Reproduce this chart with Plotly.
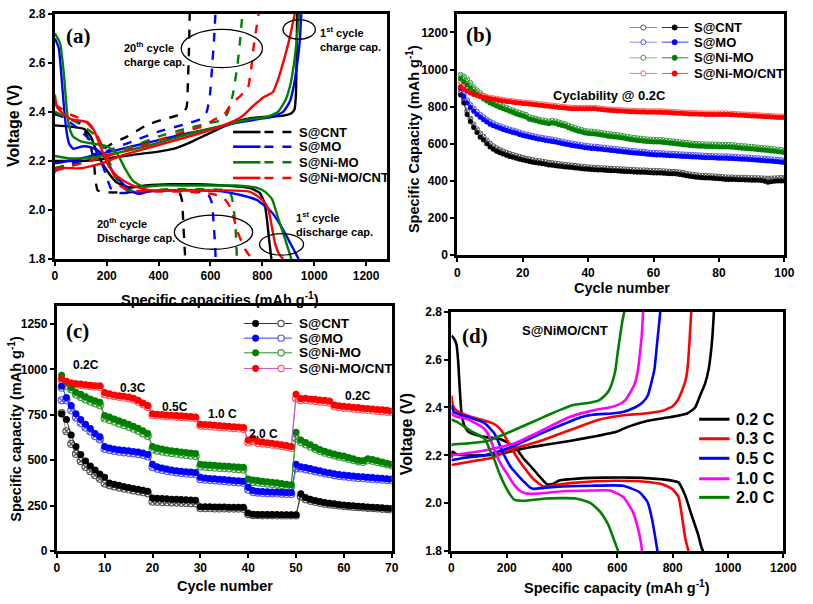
import plotly.graph_objects as go

# ---------------- DATA ----------------
materials = ["S@CNT", "S@MO", "S@Ni-MO", "S@Ni-MO/CNT"]

# Panel (a): 1st cycle (solid) and 20th cycle (dashed) voltage profiles
a_cnt_d1_x = [0, 60, 113, 138, 160, 189, 215, 239, 289, 350, 450, 550, 650, 750, 790, 808, 818, 826, 835]
a_cnt_d1_y = [2.345, 2.34, 2.33, 2.30, 2.24, 2.18, 2.14, 2.112, 2.092, 2.10, 2.105, 2.105, 2.10, 2.09, 2.07, 2.03, 1.96, 1.88, 1.80]
a_mo_d1_x = [0, 15, 25, 35, 45, 55, 70, 90, 110, 140, 170, 200, 227, 260, 290, 327, 360, 450, 550, 650, 720, 780, 837, 880, 910, 940]
a_mo_d1_y = [2.70, 2.66, 2.55, 2.42, 2.32, 2.27, 2.25, 2.255, 2.26, 2.255, 2.24, 2.20, 2.15, 2.11, 2.08, 2.065, 2.075, 2.08, 2.08, 2.075, 2.06, 2.04, 1.99, 1.92, 1.86, 1.80]
a_nimo_d1_x = [0, 20, 35, 45, 55, 70, 100, 150, 200, 240, 270, 300, 340, 400, 500, 600, 700, 780, 810, 837, 860, 885, 912]
a_nimo_d1_y = [2.72, 2.68, 2.55, 2.42, 2.34, 2.30, 2.28, 2.27, 2.26, 2.23, 2.17, 2.12, 2.095, 2.10, 2.10, 2.10, 2.10, 2.09, 2.075, 2.045, 1.97, 1.89, 1.80]
a_cnt2_d1_x = [0, 8, 30, 63, 126, 151, 176, 208, 239, 280, 320, 370, 450, 550, 650, 750, 790, 810, 824, 837, 850, 865, 880]
a_cnt2_d1_y = [2.47, 2.42, 2.395, 2.37, 2.358, 2.325, 2.258, 2.178, 2.139, 2.11, 2.092, 2.08, 2.08, 2.08, 2.08, 2.075, 2.05, 2.03, 2.00, 1.93, 1.86, 1.82, 1.80]

a_cnt_c1_x = [0, 100, 200, 300, 400, 460, 520, 580, 640, 700, 760, 820, 880, 912, 924, 929, 932, 934]
a_cnt_c1_y = [2.20, 2.20, 2.21, 2.225, 2.238, 2.25, 2.275, 2.305, 2.335, 2.36, 2.375, 2.38, 2.385, 2.395, 2.41, 2.46, 2.60, 2.80]
a_mo_c1_x = [0, 100, 200, 300, 400, 500, 600, 700, 780, 840, 880, 905, 920, 935, 945, 950]
a_mo_c1_y = [2.19, 2.21, 2.235, 2.26, 2.285, 2.31, 2.33, 2.355, 2.37, 2.38, 2.40, 2.44, 2.50, 2.60, 2.70, 2.80]
a_nimo_c1_x = [0, 60, 150, 250, 350, 450, 550, 650, 750, 820, 860, 890, 910, 925, 935, 942]
a_nimo_c1_y = [2.22, 2.21, 2.215, 2.235, 2.26, 2.29, 2.32, 2.345, 2.37, 2.38, 2.40, 2.45, 2.52, 2.62, 2.72, 2.80]
a_cnt2_c1_x = [0, 5, 100, 180, 250, 350, 450, 550, 650, 720, 760, 805, 840, 860, 880, 905, 925]
a_cnt2_c1_y = [2.15, 2.17, 2.17, 2.19, 2.22, 2.25, 2.28, 2.31, 2.345, 2.38, 2.42, 2.46, 2.48, 2.53, 2.60, 2.70, 2.80]

a_cnt_d20_x = [0, 50, 100, 125, 140, 150, 156, 165, 200, 300, 400, 460, 480, 490, 495, 500, 503]
a_cnt_d20_y = [2.39, 2.375, 2.35, 2.30, 2.25, 2.20, 2.13, 2.08, 2.072, 2.073, 2.08, 2.08, 2.07, 2.04, 1.95, 1.85, 1.80]
a_mo_d20_x = [0, 80, 140, 170, 195, 215, 240, 350, 450, 550, 590, 605, 612, 617, 620]
a_mo_d20_y = [2.40, 2.34, 2.28, 2.22, 2.15, 2.09, 2.07, 2.075, 2.08, 2.075, 2.065, 2.03, 1.95, 1.87, 1.80]
a_nimo_d20_x = [0, 80, 150, 190, 220, 250, 280, 350, 450, 550, 660, 680, 690, 697, 702]
a_nimo_d20_y = [2.40, 2.36, 2.31, 2.25, 2.17, 2.10, 2.08, 2.08, 2.085, 2.085, 2.08, 2.06, 2.00, 1.92, 1.80]
a_cnt2_d20_x = [0, 60, 120, 160, 190, 220, 250, 290, 400, 500, 604, 650, 679, 704, 730, 750, 772]
a_cnt2_d20_y = [2.43, 2.39, 2.36, 2.31, 2.24, 2.16, 2.10, 2.08, 2.075, 2.075, 2.066, 2.05, 2.006, 1.913, 1.846, 1.815, 1.80]

a_cnt_c20_x = [0, 50, 100, 160, 220, 280, 352, 420, 470, 497, 508, 513, 517, 520]
a_cnt_c20_y = [2.17, 2.18, 2.20, 2.23, 2.27, 2.30, 2.345, 2.37, 2.385, 2.40, 2.42, 2.52, 2.65, 2.80]
a_mo_c20_x = [0, 100, 200, 300, 400, 503, 560, 585, 598, 606, 614, 619]
a_mo_c20_y = [2.17, 2.20, 2.24, 2.28, 2.32, 2.35, 2.37, 2.40, 2.47, 2.58, 2.70, 2.80]
a_nimo_c20_x = [0, 100, 200, 300, 400, 500, 600, 650, 667, 686, 704, 715, 723]
a_nimo_c20_y = [2.17, 2.19, 2.22, 2.26, 2.30, 2.33, 2.355, 2.37, 2.398, 2.47, 2.59, 2.70, 2.80]
a_cnt2_c20_x = [0, 100, 200, 300, 400, 500, 580, 616, 650, 679, 710, 730, 745, 755, 767, 777, 786]
a_cnt2_c20_y = [2.16, 2.19, 2.22, 2.25, 2.285, 2.32, 2.345, 2.37, 2.385, 2.43, 2.46, 2.48, 2.50, 2.56, 2.67, 2.74, 2.80]

# Panel (b): cyclability at 0.2C, cycles 1-100 (filled = discharge, open = charge)
b_cycles = list(range(1, 101))
b_cnt = [863, 819, 758, 720, 688, 660, 635, 620, 600, 582,
         570, 560, 552, 545, 538, 532, 527, 522, 517, 512,
         508, 505, 501, 498, 495, 492, 489, 486, 484, 481,
         479, 477, 475, 474, 472, 470, 468, 466, 464, 462,
         461, 460, 459, 458, 457, 456, 455, 454, 453, 452,
         451, 450, 449, 448, 447, 446, 446, 445, 444, 443,
         443, 442, 441, 440, 439, 438, 437, 435, 432, 428,
         425, 422, 420, 418, 417, 416, 415, 414, 413, 412,
         410, 408, 408, 407, 407, 406, 406, 405, 405, 404,
         404, 403, 402, 398, 392, 395, 398, 400, 400, 400]
b_cnt_open = [875, 835, 775, 735, 705, 678, 655, 638, 618, 600,
              587, 576, 567, 559, 552, 546, 540, 535, 530, 525,
              520, 517, 513, 510, 507, 504, 501, 498, 496, 493,
              491, 489, 487, 485, 483, 481, 479, 477, 475, 473,
              472, 471, 470, 469, 468, 467, 466, 465, 464, 463,
              462, 461, 460, 459, 458, 457, 457, 456, 455, 454,
              454, 453, 452, 451, 450, 449, 448, 446, 443, 439,
              436, 433, 431, 429, 428, 427, 426, 425, 424, 423,
              421, 420, 419, 419, 418, 418, 417, 417, 416, 416,
              415, 415, 414, 413, 412, 413, 414, 415, 416, 416]
b_mo = [898, 854, 820, 795, 775, 758, 743, 730, 717, 705,
        697, 690, 683, 677, 671, 666, 661, 656, 650, 644,
        640, 636, 632, 628, 624, 621, 618, 615, 612, 609,
        605, 601, 597, 594, 591, 588, 585, 582, 579, 577,
        575, 574, 572, 570, 568, 566, 564, 562, 560, 558,
        556, 554, 552, 550, 549, 547, 546, 544, 542, 541,
        540, 539, 538, 537, 536, 535, 534, 533, 532, 531,
        530, 529, 528, 527, 526, 525, 524, 524, 523, 522,
        522, 522, 521, 520, 519, 518, 517, 516, 515, 514,
        512, 511, 510, 509, 507, 506, 505, 503, 501, 499]
b_mo_open = [905, 868, 835, 810, 790, 772, 757, 744, 731, 719,
             710, 702, 695, 689, 683, 677, 672, 667, 661, 655,
             651, 647, 643, 639, 635, 632, 629, 626, 623, 620,
             616, 612, 608, 605, 602, 599, 596, 593, 590, 588,
             586, 585, 583, 581, 579, 577, 575, 573, 571, 569,
             567, 565, 563, 561, 560, 558, 557, 555, 553, 552,
             551, 550, 549, 548, 547, 546, 545, 544, 543, 542,
             541, 540, 539, 538, 537, 536, 535, 535, 534, 533,
             533, 533, 532, 531, 530, 529, 528, 527, 526, 525,
             523, 522, 521, 520, 518, 517, 516, 514, 512, 510]
b_nimo = [951, 935, 918, 900, 881, 866, 853, 841, 830, 819,
          811, 803, 796, 789, 782, 775, 768, 761, 755, 749,
          744, 732, 728, 724, 718, 714, 712, 708, 712, 709,
          703, 698, 694, 686, 679, 673, 668, 663, 658, 655,
          654, 653, 650, 647, 644, 641, 639, 637, 635, 632,
          629, 626, 623, 620, 618, 616, 614, 612, 611, 610,
          609, 609, 607, 605, 603, 601, 599, 597, 595, 593,
          591, 589, 588, 587, 586, 585, 585, 584, 584, 583,
          583, 583, 582, 581, 580, 578, 576, 575, 573, 572,
          570, 568, 566, 565, 563, 561, 559, 557, 555, 552]
b_nimo_open = [972, 962, 948, 928, 905, 888, 873, 859, 847, 835,
               826, 817, 809, 801, 794, 787, 780, 773, 767, 761,
               756, 744, 740, 736, 730, 726, 724, 720, 724, 721,
               715, 710, 706, 698, 691, 685, 680, 675, 670, 667,
               666, 665, 662, 659, 656, 653, 651, 649, 647, 644,
               641, 638, 635, 632, 630, 628, 626, 624, 623, 622,
               621, 621, 619, 617, 615, 613, 611, 609, 607, 605,
               603, 601, 600, 599, 598, 597, 597, 596, 596, 595,
               595, 595, 594, 593, 592, 590, 588, 587, 585, 584,
               582, 580, 578, 577, 575, 573, 571, 569, 567, 564]
b_nimocnt = [907, 895, 883, 873, 865, 860, 855, 850, 846, 843,
             840, 837, 834, 831, 828, 826, 824, 821, 819, 817,
             815, 814, 812, 810, 808, 806, 804, 802, 800, 798,
             796, 794, 792, 790, 789, 788, 788, 788, 788, 788,
             788, 788, 786, 784, 782, 780, 779, 778, 777, 776,
             775, 774, 773, 772, 771, 771, 771, 770, 770, 770,
             770, 770, 769, 768, 767, 766, 765, 764, 763, 762,
             761, 760, 760, 759, 759, 758, 758, 758, 758, 758,
             758, 758, 757, 756, 755, 754, 753, 752, 751, 750,
             749, 748, 747, 746, 745, 744, 743, 742, 741, 741]
b_nimocnt_open = [935, 915, 898, 885, 875, 868, 862, 857, 852, 849,
                  846, 843, 840, 837, 834, 832, 830, 827, 825, 823,
                  821, 820, 818, 816, 814, 812, 810, 808, 806, 804,
                  802, 800, 798, 796, 795, 794, 794, 794, 794, 794,
                  794, 794, 792, 790, 788, 786, 785, 784, 783, 782,
                  781, 780, 779, 778, 777, 777, 777, 776, 776, 776,
                  776, 776, 775, 774, 773, 772, 771, 770, 769, 768,
                  767, 766, 766, 765, 765, 764, 764, 764, 764, 764,
                  764, 764, 763, 762, 761, 760, 759, 758, 757, 756,
                  755, 754, 753, 752, 751, 750, 749, 748, 747, 747]

# Panel (c): rate capability, cycles 1-70
c_cycles = list(range(1, 71))
c_rate_labels = ["0.2C", "0.3C", "0.5C", "1.0 C", "2.0 C", "0.2C"]
c_cnt = [755, 724, 639, 576, 532, 496, 469, 446, 424,
         406, 375, 368, 362, 356, 350, 345, 340, 335, 329,
         293, 291, 289, 288, 286, 285, 284, 283, 281, 280,
         244, 244, 244, 243, 243, 243, 242, 242, 242, 241,
         210, 203, 202, 202, 201, 201, 201, 200, 200, 200,
         200, 316, 295, 286, 279, 273, 268, 264, 260, 257,
         254, 251, 249, 247, 245, 243, 242, 240, 238, 236, 234]
c_cnt_open = [760, 660, 590, 535, 495, 463, 440, 418, 398,
              372, 362, 356, 350, 344, 339, 334, 329, 324, 318,
              272, 271, 270, 269, 268, 267, 266, 265, 264, 263,
              236, 236, 236, 235, 235, 235, 234, 234, 234, 233,
              203, 198, 198, 197, 197, 197, 196, 196, 196, 196,
              196, 300, 285, 277, 271, 266, 261, 257, 254, 251,
              248, 246, 244, 242, 240, 238, 237, 235, 233, 231, 229]
c_mo = [909, 846, 801, 756, 724, 699, 675, 648, 630,
        576, 568, 562, 558, 555, 552, 549, 545, 540, 532,
        478, 465, 458, 452, 447, 443, 440, 437, 435, 433,
        406, 403, 400, 398, 396, 394, 391, 389, 387, 385,
        352, 334, 330, 328, 327, 326, 325, 324, 323, 322,
        478, 465, 460, 455, 448, 442, 436, 431, 426, 422,
        419, 416, 413, 411, 409, 407, 405, 403, 401, 399, 397]
c_mo_open = [830, 830, 775, 735, 705, 680, 658, 633, 615,
             562, 556, 551, 547, 544, 541, 538, 534, 529, 521,
             462, 453, 447, 441, 437, 433, 430, 427, 425, 423,
             396, 393, 391, 389, 387, 385, 382, 380, 378, 376,
             338, 325, 322, 320, 319, 318, 317, 316, 315, 314,
             455, 455, 450, 445, 439, 433, 428, 423, 418, 414,
             411, 408, 405, 403, 401, 399, 397, 395, 393, 391, 389]
c_nimo = [968, 930, 900, 875, 864, 850, 838, 828, 819,
          747, 738, 728, 718, 708, 698, 688, 676, 662, 648,
          576, 568, 562, 557, 553, 550, 546, 543, 540, 537,
          478, 476, 474, 472, 470, 469, 467, 465, 463, 461,
          397, 392, 388, 385, 382, 379, 376, 372, 368, 365,
          654, 612, 598, 585, 572, 559, 550, 542, 535, 528,
          523, 515, 508, 500, 497, 508, 504, 498, 490, 484, 478]
c_nimo_open = [900, 910, 890, 862, 848, 835, 823, 813, 803,
               730, 722, 713, 703, 694, 684, 674, 662, 648, 634,
               560, 553, 548, 543, 539, 536, 532, 529, 526, 523,
               466, 464, 462, 460, 458, 457, 455, 453, 451, 449,
               385, 381, 378, 375, 372, 369, 366, 362, 359, 356,
               620, 600, 588, 575, 563, 551, 542, 534, 527, 520,
               515, 508, 501, 494, 491, 500, 497, 491, 484, 478, 472]
c_nimocnt = [950, 935, 925, 922, 920, 916, 913, 910, 910,
             873, 866, 860, 856, 852, 848, 842, 830, 815, 801,
             756, 754, 752, 750, 748, 747, 745, 743, 741, 738,
             699, 697, 695, 693, 691, 689, 687, 685, 683, 680,
             612, 622, 605, 600, 597, 594, 590, 586, 581, 576,
             864, 840, 842, 838, 836, 832, 830, 826, 805, 800,
             797, 795, 792, 790, 787, 785, 782, 780, 778, 775, 772]
c_nimocnt_open = [940, 928, 920, 918, 915, 911, 908, 905, 903,
                  862, 858, 853, 849, 845, 841, 835, 822, 808, 793,
                  748, 747, 745, 743, 741, 740, 738, 736, 734, 731,
                  690, 689, 687, 685, 683, 681, 679, 677, 675, 672,
                  598, 605, 595, 592, 589, 586, 582, 578, 573, 568,
                  840, 830, 832, 829, 827, 823, 821, 817, 797, 792,
                  789, 787, 784, 782, 779, 777, 774, 772, 770, 767, 765]

# Panel (d): S@NiMO/CNT at different rates
d_rates = ["0.2 C", "0.3 C", "0.5 C", "1.0 C", "2.0 C"]
d_02_dis_x = [0, 8, 18, 24, 30, 36, 45, 60, 90, 130, 170, 200, 230, 262, 290, 320, 345, 365, 390, 427, 480, 550, 650, 760, 821, 845, 868, 892, 904, 910]
d_02_dis_y = [2.70, 2.69, 2.665, 2.60, 2.48, 2.38, 2.33, 2.30, 2.285, 2.275, 2.27, 2.255, 2.235, 2.185, 2.15, 2.11, 2.08, 2.08, 2.095, 2.10, 2.105, 2.107, 2.107, 2.10, 2.087, 2.033, 1.951, 1.869, 1.815, 1.80]
d_02_chg_x = [0, 2, 20, 60, 110, 170, 227, 290, 345, 427, 521, 600, 640, 710, 793, 852, 881, 899, 917, 930, 940, 945, 949]
d_02_chg_y = [2.19, 2.215, 2.205, 2.20, 2.20, 2.205, 2.22, 2.235, 2.245, 2.26, 2.28, 2.30, 2.32, 2.345, 2.36, 2.375, 2.40, 2.45, 2.50, 2.56, 2.65, 2.72, 2.80]
d_03_dis_x = [0, 5, 20, 61, 120, 156, 180, 203, 227, 262, 297, 333, 380, 440, 521, 600, 700, 760, 798, 821, 833, 845, 857]
d_03_dis_y = [2.45, 2.41, 2.385, 2.365, 2.345, 2.33, 2.305, 2.26, 2.21, 2.15, 2.10, 2.07, 2.077, 2.085, 2.092, 2.094, 2.09, 2.08, 2.06, 2.026, 1.95, 1.856, 1.80]
d_03_chg_x = [0, 50, 100, 150, 203, 262, 321, 380, 439, 521, 580, 640, 700, 760, 800, 818, 830, 840, 848, 855, 861, 867]
d_03_chg_y = [2.16, 2.17, 2.18, 2.19, 2.22, 2.24, 2.26, 2.285, 2.31, 2.345, 2.36, 2.37, 2.375, 2.385, 2.405, 2.43, 2.46, 2.49, 2.52, 2.58, 2.68, 2.80]
d_05_dis_x = [0, 10, 61, 120, 156, 191, 215, 238, 262, 285, 297, 340, 404, 503, 620, 680, 709, 727, 739, 745]
d_05_dis_y = [2.41, 2.38, 2.36, 2.335, 2.29, 2.20, 2.15, 2.12, 2.09, 2.065, 2.06, 2.065, 2.07, 2.073, 2.073, 2.046, 2.005, 1.924, 1.842, 1.80]
d_05_chg_x = [0, 50, 120, 180, 227, 321, 404, 470, 510, 580, 616, 663, 690, 710, 722, 734, 742, 750, 755]
d_05_chg_y = [2.18, 2.19, 2.20, 2.22, 2.24, 2.29, 2.33, 2.36, 2.37, 2.375, 2.38, 2.40, 2.42, 2.45, 2.50, 2.56, 2.65, 2.74, 2.80]
d_10_dis_x = [0, 10, 61, 120, 140, 156, 180, 203, 225, 250, 274, 310, 404, 503, 574, 621, 656, 674, 686, 689]
d_10_dis_y = [2.38, 2.365, 2.35, 2.31, 2.27, 2.22, 2.16, 2.12, 2.08, 2.05, 2.04, 2.04, 2.05, 2.053, 2.053, 2.026, 1.964, 1.897, 1.829, 1.80]
d_10_chg_x = [0, 60, 120, 227, 321, 427, 521, 569, 600, 628, 650, 663, 675, 681, 688, 693]
d_10_chg_y = [2.20, 2.21, 2.22, 2.25, 2.30, 2.36, 2.39, 2.40, 2.41, 2.43, 2.47, 2.50, 2.56, 2.62, 2.70, 2.80]
d_20_dis_x = [0, 20, 73, 120, 140, 156, 175, 191, 210, 227, 262, 345, 450, 503, 538, 567, 585, 603]
d_20_dis_y = [2.35, 2.34, 2.30, 2.27, 2.22, 2.18, 2.12, 2.08, 2.04, 2.015, 2.01, 2.02, 2.02, 2.0, 1.964, 1.91, 1.856, 1.80]
d_20_chg_x = [0, 3, 60, 130, 215, 333, 439, 500, 533, 555, 569, 580, 592, 600, 610, 618, 625]
d_20_chg_y = [2.24, 2.245, 2.25, 2.26, 2.30, 2.36, 2.41, 2.42, 2.43, 2.45, 2.47, 2.50, 2.55, 2.62, 2.70, 2.76, 2.80]

# ---------------- STYLE / LAYOUT ----------------
W, H = 813, 604
FONT = "Liberation Sans"
SERIF = "Liberation Serif"
BLACK, BLUE, GREEN, RED, MAG = "#000000", "#0000ff", "#008000", "#ff0000", "#ff00ff"
mat_colors = [BLACK, BLUE, GREEN, RED]
open_colors = ["#555555", "#5555ff", "#3c9c3c", "#ff5a5a"]
open_line_colors = ["#8c8c8c", "#8a8aff", "#7cc07c", "#c07ad8"]
fill_line_colors = ["#333333", "#3a3aff", "#2a8a2a", "#c050d0"]
rate_colors = [BLACK, RED, BLUE, MAG, GREEN]


def px(x):
    return x / W


def py(y):
    return 1 - y / H


fig = go.Figure()
SPL = dict(shape="spline", smoothing=0.5)

# (a)
a_solid = [(a_cnt_d1_x, a_cnt_d1_y, a_cnt_c1_x, a_cnt_c1_y),
           (a_mo_d1_x, a_mo_d1_y, a_mo_c1_x, a_mo_c1_y),
           (a_nimo_d1_x, a_nimo_d1_y, a_nimo_c1_x, a_nimo_c1_y),
           (a_cnt2_d1_x, a_cnt2_d1_y, a_cnt2_c1_x, a_cnt2_c1_y)]
a_dash = [(a_cnt_d20_x, a_cnt_d20_y, a_cnt_c20_x, a_cnt_c20_y),
          (a_mo_d20_x, a_mo_d20_y, a_mo_c20_x, a_mo_c20_y),
          (a_nimo_d20_x, a_nimo_d20_y, a_nimo_c20_x, a_nimo_c20_y),
          (a_cnt2_d20_x, a_cnt2_d20_y, a_cnt2_c20_x, a_cnt2_c20_y)]
for i, name in enumerate(materials):
    for (dx, dy, cx, cy), dash in ((a_dash[i], "dash"), (a_solid[i], "solid")):
        for xx, yy in ((dx, dy), (cx, cy)):
            fig.add_trace(go.Scatter(x=xx, y=yy, mode="lines", xaxis="x", yaxis="y",
                                     line=dict(color=mat_colors[i], width=2.4, dash=dash, **SPL),
                                     showlegend=False, name=name))

# (b)
b_filled = [b_cnt, b_mo, b_nimo, b_nimocnt]
b_open = [b_cnt_open, b_mo_open, b_nimo_open, b_nimocnt_open]
for i in range(4):
    fig.add_trace(go.Scatter(x=b_cycles, y=b_open[i], mode="lines+markers", xaxis="x2", yaxis="y2",
                             line=dict(color=open_line_colors[i], width=1),
                             marker=dict(symbol="circle-x-open", size=5, color=open_colors[i], line=dict(width=1)),
                             showlegend=False))
for i in range(4):
    fig.add_trace(go.Scatter(x=b_cycles, y=b_filled[i], mode="lines+markers", xaxis="x2", yaxis="y2",
                             line=dict(color=fill_line_colors[i], width=1),
                             marker=dict(symbol="circle", size=5, color=mat_colors[i]),
                             showlegend=False))

# (c)
c_filled = [c_cnt, c_mo, c_nimo, c_nimocnt]
c_open = [c_cnt_open, c_mo_open, c_nimo_open, c_nimocnt_open]
for i in range(4):
    fig.add_trace(go.Scatter(x=c_cycles, y=c_open[i], mode="lines+markers", xaxis="x3", yaxis="y3",
                             line=dict(color=open_line_colors[i], width=1),
                             marker=dict(symbol="circle-x-open", size=7, color=open_colors[i], line=dict(width=1.2)),
                             showlegend=False))
for i in range(4):
    fig.add_trace(go.Scatter(x=c_cycles, y=c_filled[i], mode="lines+markers", xaxis="x3", yaxis="y3",
                             line=dict(color=fill_line_colors[i], width=1),
                             marker=dict(symbol="circle", size=7, color=mat_colors[i]),
                             showlegend=False))

# (d)
d_curves = [(d_02_dis_x, d_02_dis_y, d_02_chg_x, d_02_chg_y),
            (d_03_dis_x, d_03_dis_y, d_03_chg_x, d_03_chg_y),
            (d_05_dis_x, d_05_dis_y, d_05_chg_x, d_05_chg_y),
            (d_10_dis_x, d_10_dis_y, d_10_chg_x, d_10_chg_y),
            (d_20_dis_x, d_20_dis_y, d_20_chg_x, d_20_chg_y)]
for i, (dx, dy, cx, cy) in enumerate(d_curves):
    for xx, yy in ((dx, dy), (cx, cy)):
        fig.add_trace(go.Scatter(x=xx, y=yy, mode="lines", xaxis="x4", yaxis="y4",
                                 line=dict(color=rate_colors[i], width=2.6, **SPL),
                                 showlegend=False, name=d_rates[i]))


def ax(domain, rng, dtick, anchor, fmt=None, t0=0):
    d = dict(domain=domain, range=rng, dtick=dtick, tick0=t0, anchor=anchor, showline=True,
             linecolor="black", linewidth=3, mirror=True, ticks="outside", ticklen=4, tickwidth=2,
             tickcolor="black", showgrid=False, zeroline=False,
             tickfont=dict(family=FONT, size=12, color="black", weight="bold"))
    if fmt:
        d["tickformat"] = fmt
    return d


fig.update_layout(
    width=W, height=H, margin=dict(l=0, r=0, t=0, b=0),
    paper_bgcolor="white", plot_bgcolor="white", showlegend=False,
    xaxis=ax([px(53), px(392)], [0, 1280], 200, "y"),
    yaxis=ax([py(258), py(7)], [1.8, 2.8], 0.2, "x", ".1f", 1.8),
    xaxis2=ax([px(464), px(798)], [0, 100], 20, "y2"),
    yaxis2=ax([py(254), py(7)], [0, 1300], 200, "x2"),
    xaxis3=ax([px(55), px(397)], [0, 70], 10, "y3"),
    yaxis3=ax([py(557), py(306)], [0, 1350], 250, "x3"),
    xaxis4=ax([px(458), px(797)], [0, 1200], 200, "y4"),
    yaxis4=ax([py(557), py(312)], [1.8, 2.8], 0.2, "x4", ".1f", 1.8),
)

ann = []
shapes = []


def text(x, y, s, size=12, color="black", xanchor="center", family=FONT, angle=0, align="center"):
    ann.append(dict(x=px(x), y=py(y), xref="paper", yref="paper", text=s, showarrow=False,
                    xanchor=xanchor, yanchor="middle", textangle=angle, align=align,
                    font=dict(family=family, size=size, color=color, weight="bold")))


def hline(x0, x1, y, color, width=2.5, dash="solid"):
    shapes.append(dict(type="line", xref="paper", yref="paper", x0=px(x0), x1=px(x1), y0=py(y), y1=py(y),
                       line=dict(color=color, width=width, dash=dash)))


def circ(cx, cy, r, line, fill=None, width=1):
    shapes.append(dict(type="circle", xref="paper", yref="paper", x0=px(cx - r), x1=px(cx + r),
                       y0=py(cy + r), y1=py(cy - r), line=dict(color=line, width=width),
                       fillcolor=fill if fill else "rgba(0,0,0,0)"))


def ellipse(x0, x1, y0, y1):
    shapes.append(dict(type="circle", xref="paper", yref="paper", x0=px(x0), x1=px(x1),
                       y0=py(y1), y1=py(y0), line=dict(color="black", width=1.3)))


# axis titles
TS = 14.5
text(10, 122, "Voltage (V)", 16, angle=-90)
text(222, 299, "Specific capacities (mAh g<sup>-1</sup>)", TS)
text(419, 135, "Specific Capacity (mAh g<sup>-1</sup>)", TS, angle=-90)
text(632, 288, "Cycle number", TS)
text(12, 432, "Specific capacity (mAh g<sup>-1</sup>)", TS, angle=-90)
text(227, 593, "Cycle number", TS)
text(412, 437, "Voltage (V)", 16, angle=-90)
text(627, 594, "Specific capacity (mAh g<sup>-1</sup>)", TS)

# panel labels
text(77, 30, "(a)", 21, family=SERIF)
text(486, 29, "(b)", 21, family=SERIF)
text(76, 332, "(c)", 21, family=SERIF)
text(482, 337, "(d)", 21, family=SERIF)

# (a) annotations + ellipses
text(122, 48, "20<sup>th</sup> cycle<br>charge cap.", 11, xanchor="left", align="left")
text(322, 33, "1<sup>st</sup> cycle<br>charge cap.", 11, xanchor="left", align="left")
text(94, 228, "20<sup>th</sup> cycle<br>Discharge cap.", 11, xanchor="left", align="left")
text(297, 222, "1<sup>st</sup> cycle<br>discharge cap.", 11, xanchor="left", align="left")
ellipse(182, 265, 23, 62)
ellipse(286, 319, 13, 33)
ellipse(175, 255, 213, 248)
ellipse(262, 307, 232, 254)

# (a) legend
for i, name in enumerate(materials):
    yy = [128, 143, 159, 175][i]
    hline(235, 263, yy, mat_colors[i], 2.6)
    hline(267, 295, yy, mat_colors[i], 2.6, "dash")
    text(300, yy, name, 13, xanchor="left")

# (b) legend + label
for i, name in enumerate(materials):
    yy = [21, 36, 52, 68][i]
    hline(640, 668, yy, open_line_colors[i], 1)
    circ(654, yy, 2.6, open_colors[i], "white", 1)
    hline(673, 700, yy, fill_line_colors[i], 1)
    circ(686, yy, 2.6, mat_colors[i], mat_colors[i], 1)
    text(704, yy, name, 13, xanchor="left")
text(619, 91, "Cyclability @ 0.2C", 13)

# (c) legend + rate labels
for i, name in enumerate(materials):
    yy = [324, 339, 354, 370][i]
    hline(246, 295, yy, fill_line_colors[i], 1)
    circ(258, yy, 3.2, mat_colors[i], mat_colors[i], 1)
    circ(284, yy, 3.2, open_colors[i], "white", 1.2)
    text(300, yy, name, 13.5, xanchor="left")
for (xx, yy), s in zip([(85, 367), (133, 390), (176, 409), (224, 417), (266, 437), (363, 398)], c_rate_labels):
    text(xx, yy, s, 12)

# (d) legend + label
for i, name in enumerate(d_rates):
    yy = [422, 442, 462, 483, 502][i]
    hline(711, 742, yy, rate_colors[i], 3)
    text(747, yy, name, 16, xanchor="left")
text(574, 331, "S@NiMO/CNT", 13)

fig.update_layout(annotations=ann, shapes=shapes)
fig.write_html("out.html")
